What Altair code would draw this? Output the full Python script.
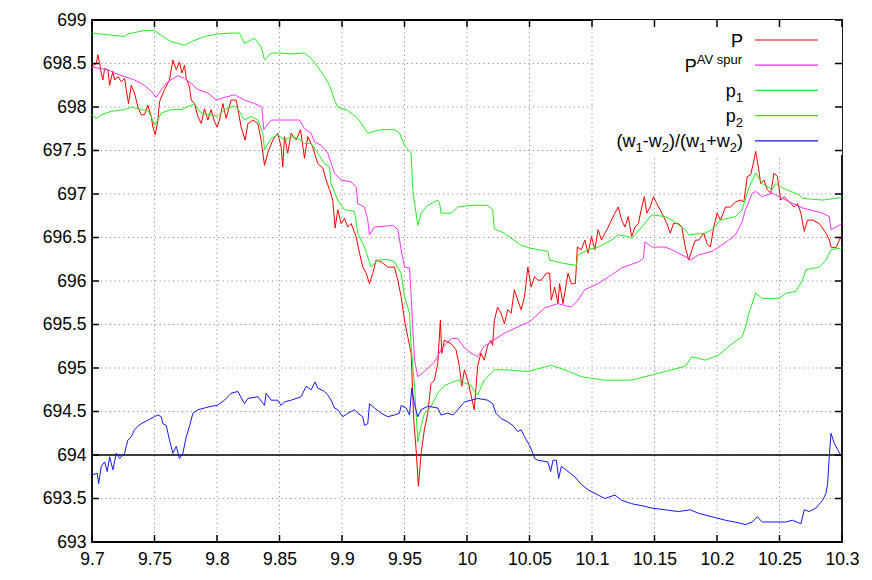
import altair as alt
import pandas as pd

# ---------------- data ----------------
P_x = [9.700, 9.7034, 9.7047, 9.7061, 9.7074, 9.7087, 9.7101, 9.7127, 9.7141, 9.7167, 9.7181, 9.7207, 9.7234, 9.7261,
       9.7274, 9.7292, 9.7314, 9.7340, 9.7367, 9.7394, 9.7420, 9.7447, 9.7474, 9.7487, 9.7506, 9.7527, 9.7540, 9.7580,
       9.7620, 9.7647, 9.7674, 9.7700, 9.7719, 9.7740, 9.7754, 9.7780, 9.7794, 9.7820, 9.7847, 9.7874, 9.7900, 9.7927,
       9.7953, 9.7980, 9.8001, 9.8020, 9.8047, 9.8073, 9.8113, 9.8153, 9.8167, 9.8193, 9.8225, 9.8247, 9.8287, 9.8327,
       9.8353, 9.8380, 9.8406, 9.8446, 9.8486, 9.8513, 9.8526, 9.8540, 9.8566, 9.8593, 9.8633, 9.8668, 9.8700, 9.8726,
       9.8766, 9.8806, 9.8846, 9.8873, 9.8900, 9.8926, 9.8945, 9.8966, 9.8993, 9.9020, 9.9046, 9.9073, 9.9113, 9.9140,
       9.9166, 9.9193, 9.9220, 9.9246, 9.9273, 9.9313, 9.9366, 9.9420, 9.9446, 9.9473, 9.9500, 9.9526, 9.9553, 9.9574,
       9.9593, 9.9611, 9.9633, 9.9659, 9.9686, 9.9712, 9.9739, 9.9766, 9.9787, 9.9798, 9.9819, 9.9872, 9.9912, 9.9939,
       9.9958, 9.9979, 10.0006, 10.0058, 10.0085, 10.0111, 10.0138, 10.0165, 10.0192, 10.0205, 10.0219, 10.0245, 10.0272,
       10.0299, 10.0326, 10.0353, 10.0379, 10.0406, 10.0433, 10.0460, 10.0487, 10.0513, 10.0540, 10.0567, 10.0594,
       10.0634, 10.0661, 10.0674, 10.0701, 10.0728, 10.0741, 10.0768, 10.0808, 10.0835, 10.0867, 10.0883, 10.0915,
       10.0942, 10.0969, 10.0996, 10.1023, 10.1049, 10.1076, 10.1103, 10.1130, 10.1156, 10.1183, 10.1210, 10.1237,
       10.1264, 10.1290, 10.1317, 10.1344, 10.1371, 10.1398, 10.1419, 10.1438, 10.1465, 10.1492, 10.1518, 10.1559,
       10.1599, 10.1626, 10.1652, 10.1693, 10.1719, 10.1746, 10.1773, 10.1800, 10.1827, 10.1853, 10.1894, 10.1920,
       10.1947, 10.1974, 10.2001, 10.2028, 10.2068, 10.2108, 10.2148, 10.2188, 10.2215, 10.2242, 10.2269, 10.2296,
       10.2309, 10.2331, 10.2349, 10.2376, 10.2403, 10.2430, 10.2456, 10.2483, 10.2510, 10.2537, 10.2564, 10.2590,
       10.2617, 10.2644, 10.2671, 10.2698, 10.2724, 10.2765, 10.2818, 10.2872, 10.2898, 10.2912, 10.2952, 10.2979, 10.3]
P_y = [698.46, 698.50, 698.60, 698.50, 698.39, 698.31, 698.44, 698.43, 698.25, 698.41, 698.31, 698.35, 698.29, 698.33,
       698.20, 698.04, 698.25, 698.16, 698.00, 697.91, 697.91, 698.02, 697.89, 697.77, 697.68, 697.85, 698.06, 698.20,
       698.31, 698.54, 698.43, 698.52, 698.39, 698.48, 698.33, 698.23, 698.08, 698.04, 697.89, 697.81, 697.98, 697.85,
       697.97, 697.83, 697.77, 697.85, 698.04, 697.87, 698.08, 698.08, 697.98, 697.77, 697.62, 697.81, 697.85, 697.81,
       697.62, 697.33, 697.47, 697.62, 697.70, 697.54, 697.31, 697.66, 697.47, 697.70, 697.62, 697.74, 697.41, 697.66,
       697.54, 697.35, 697.30, 697.16, 697.05, 696.93, 696.61, 696.82, 696.66, 696.72, 696.62, 696.66, 696.51, 696.32,
       696.16, 696.09, 695.97, 696.09, 696.24, 696.22, 696.16, 696.16, 696.01, 695.82, 695.55, 695.36, 695.17, 694.40,
       694.06, 693.64, 694.02, 694.29, 694.48, 694.82, 694.86, 695.05, 695.55, 695.17, 695.32, 695.28, 695.21, 695.02,
       694.79, 694.98, 694.86, 694.52, 695.02, 695.17, 695.09, 695.26, 695.32, 695.26, 695.55, 695.70, 695.63,
       695.51, 695.67, 695.63, 695.90, 695.78, 695.67, 695.82, 696.16, 695.93, 696.05, 696.01, 696.01,
       696.09, 696.09, 695.78, 695.93, 695.74, 695.97, 695.74, 696.09, 695.97, 695.97, 696.39, 696.36,
       696.47, 696.32, 696.51, 696.36, 696.59, 696.47, 696.55, 696.62, 696.70, 696.78, 696.85, 696.70,
       696.62, 696.74, 696.51, 696.62, 696.66, 696.85, 696.97, 696.78, 696.85, 696.97, 696.89, 696.78,
       696.66, 696.55, 696.66, 696.66, 696.62, 696.39, 696.24, 696.36, 696.47, 696.47, 696.55, 696.43,
       696.39, 696.62, 696.78, 696.70, 696.85, 696.85, 696.91, 696.93, 696.91, 697.20, 697.22, 697.39,
       697.49, 697.31, 697.12, 697.16, 697.05, 697.01, 697.24, 697.20, 696.93, 696.97, 696.93, 696.89,
       696.85, 696.89, 696.78, 696.57, 696.70, 696.70, 696.66, 696.55, 696.47, 696.39, 696.38, 696.47, 696.53]

PAV_x = [9.700, 9.7074, 9.7127, 9.7181, 9.7261, 9.7341, 9.7420, 9.7474, 9.7514, 9.7554, 9.7607, 9.7687, 9.7740,
         9.7794, 9.7847, 9.7927, 9.7993, 9.8060, 9.8140, 9.8220, 9.8300, 9.8359, 9.8374, 9.8433, 9.8513, 9.8593,
         9.8660, 9.8700, 9.8753, 9.8780, 9.8833, 9.8886, 9.8940, 9.8993, 9.9073, 9.9113, 9.9126, 9.9180, 9.9206,
         9.9220, 9.9260, 9.9340, 9.9407, 9.9447, 9.9473, 9.9500, 9.9540, 9.9553, 9.9580, 9.9606, 9.9660, 9.9740,
         9.9793, 9.9873, 9.9926, 9.9980, 10.0033, 10.0085, 10.0138, 10.0192, 10.0299, 10.0433, 10.0500, 10.0620,
         10.0728, 10.0835, 10.0888, 10.0942, 10.1049, 10.1156, 10.1237, 10.1371, 10.1411, 10.1424, 10.1478,
         10.1585, 10.1639, 10.1746, 10.1786, 10.1853, 10.1960, 10.2014, 10.2094, 10.2148, 10.2201, 10.2228,
         10.2282, 10.2309, 10.2362, 10.2443, 10.2496, 10.2577, 10.2684, 10.2845, 10.2898, 10.2912, 10.2952, 10.3]
PAV_y = [698.46, 698.44, 698.43, 698.39, 698.35, 698.31, 698.25, 698.18, 698.11, 698.20, 698.29, 698.36, 698.33,
         698.27, 698.20, 698.16, 698.08, 698.11, 698.14, 698.08, 698.04, 698.00, 697.74, 697.85, 697.85, 697.85,
         697.85, 697.75, 697.70, 697.60, 697.56, 697.47, 697.24, 697.16, 697.14, 697.08, 696.89, 696.85, 696.70,
         696.53, 696.62, 696.63, 696.64, 696.59, 696.36, 696.16, 696.15, 695.82, 695.09, 694.90, 694.96, 695.07,
         695.21, 695.34, 695.34, 695.23, 695.17, 695.13, 695.25, 695.30, 695.40, 695.49, 695.53, 695.69,
         695.74, 695.70, 695.78, 695.90, 695.97, 696.07, 696.15, 696.22, 696.26, 696.45, 696.39,
         696.39, 696.36, 696.28, 696.24, 696.30, 696.34, 696.39, 696.47, 696.53, 696.68, 696.82,
         697.01, 697.03, 696.97, 697.01, 696.97, 696.91, 696.84, 696.78, 696.74, 696.59, 696.62, 696.66]

P1_x = [9.700, 9.7261, 9.7287, 9.7420, 9.7500, 9.7527, 9.7634, 9.7740, 9.7794, 9.7900, 9.8007, 9.8113, 9.8180,
        9.8220, 9.8300, 9.8353, 9.8380, 9.8433, 9.8513, 9.8593, 9.8700, 9.8753, 9.8806, 9.8860, 9.8900, 9.8940,
        9.8966, 9.9046, 9.9126, 9.9206, 9.9313, 9.9420, 9.9460, 9.9500, 9.9553, 9.9566, 9.9606, 9.9633, 9.9686,
        9.9766, 9.9780, 9.9793, 9.9873, 9.9926, 10.0033, 10.0165, 10.0205, 10.0219, 10.0299, 10.0433, 10.0500,
        10.0647, 10.0661, 10.0781, 10.0875, 10.0888, 10.0969, 10.1049, 10.1156, 10.1210, 10.1290, 10.1317,
        10.1398, 10.1478, 10.1585, 10.1639, 10.1746, 10.1773, 10.1907, 10.1960, 10.2027, 10.2148, 10.2201,
        10.2255, 10.2309, 10.2362, 10.2443, 10.2469, 10.2523, 10.2657, 10.2684, 10.2845, 10.3]
P1_y = [698.85, 698.81, 698.84, 698.88, 698.88, 698.85, 698.75, 698.71, 698.75, 698.81, 698.84, 698.85, 698.85,
        698.73, 698.79, 698.69, 698.54, 698.62, 698.62, 698.61, 698.62, 698.56, 698.46, 698.35, 698.25, 698.08,
        698.00, 697.96, 697.87, 697.70, 697.74, 697.74, 697.70, 697.56, 697.47, 697.05, 696.64, 696.78, 696.87,
        696.93, 696.90, 696.78, 696.78, 696.85, 696.87, 696.87, 696.82, 696.60, 696.55, 696.41, 696.38,
        696.34, 696.24, 696.20, 696.18, 696.30, 696.36, 696.39, 696.47, 696.53, 696.51, 696.49,
        696.62, 696.76, 696.74, 696.70, 696.59, 696.53, 696.55, 696.59, 696.70, 696.74, 696.82,
        697.07, 697.24, 697.12, 697.05, 697.12, 697.07, 696.99, 696.95, 696.93, 696.96]

P2_x = [9.700, 9.7034, 9.7074, 9.7154, 9.7261, 9.7314, 9.7394, 9.7447, 9.7474, 9.7500, 9.7527, 9.7554, 9.7634,
        9.7714, 9.7794, 9.7820, 9.7847, 9.7874, 9.7953, 9.8007, 9.8060, 9.8140, 9.8167, 9.8220, 9.8273, 9.8327,
        9.8367, 9.8380, 9.8433, 9.8487, 9.8540, 9.8593, 9.8647, 9.8700, 9.8753, 9.8806, 9.8860, 9.8900, 9.8913,
        9.8966, 9.9020, 9.9100, 9.9126, 9.9180, 9.9233, 9.9286, 9.9366, 9.9420, 9.9473, 9.9500, 9.9540, 9.9553,
        9.9580, 9.9606, 9.9633, 9.9660, 9.9713, 9.9766, 9.9820, 9.9926, 10.0033, 10.0058, 10.0085, 10.0138,
        10.0219, 10.0299, 10.0487, 10.0674, 10.0781, 10.0915, 10.1103, 10.1317, 10.1424, 10.1532, 10.1746,
        10.1800, 10.1907, 10.2014, 10.2121, 10.2201, 10.2228, 10.2255, 10.2309, 10.2362, 10.2496, 10.2550,
        10.2630, 10.2684, 10.2711, 10.2818, 10.2872, 10.2912, 10.3]
P2_y = [697.91, 697.87, 697.91, 697.95, 697.97, 698.00, 697.97, 697.96, 697.89, 697.79, 697.85, 697.93, 697.97,
        697.97, 698.02, 698.04, 697.98, 697.93, 697.91, 697.89, 697.97, 698.01, 697.98, 697.85, 697.89, 697.85,
        697.70, 697.51, 697.64, 697.68, 697.62, 697.66, 697.64, 697.58, 697.58, 697.47, 697.35, 697.31, 697.12,
        696.93, 696.82, 696.80, 696.55, 696.39, 696.16, 696.24, 696.25, 696.22, 696.09, 695.82, 695.63, 695.25,
        694.79, 694.15, 694.33, 694.48, 694.56, 694.71, 694.80, 694.86, 694.80, 694.73, 694.69, 694.86,
        694.98, 694.98, 694.96, 695.03, 694.98, 694.90, 694.86, 694.86, 694.90, 694.94, 695.02,
        695.13, 695.09, 695.15, 695.28, 695.36, 695.47, 695.63, 695.86, 695.80, 695.80, 695.86,
        695.88, 696.01, 696.13, 696.16, 696.24, 696.36, 696.38]

W_x = [9.700, 9.7042, 9.7053, 9.7074, 9.7101, 9.7122, 9.7141, 9.7167, 9.7194, 9.7221, 9.7261, 9.7274, 9.7287,
       9.7314, 9.7340, 9.7367, 9.7394, 9.7447, 9.7500, 9.7527, 9.7554, 9.7567, 9.7594, 9.7620, 9.7647, 9.7674,
       9.7700, 9.7727, 9.7754, 9.7780, 9.7807, 9.7847, 9.7900, 9.7953, 9.8001, 9.8060, 9.8113, 9.8167, 9.8220,
       9.8247, 9.8327, 9.8380, 9.8393, 9.8433, 9.8486, 9.8513, 9.8540, 9.8593, 9.8673, 9.8713, 9.8753, 9.8785,
       9.8806, 9.8860, 9.8886, 9.8913, 9.8940, 9.8966, 9.9006, 9.9046, 9.9100, 9.9126, 9.9166, 9.9180, 9.9206,
       9.9220, 9.9260, 9.9313, 9.9366, 9.9420, 9.9460, 9.9473, 9.9513, 9.9540, 9.9558, 9.9579, 9.9606, 9.9633,
       9.9686, 9.9766, 9.9792, 9.9846, 9.9886, 9.9926, 9.9979, 10.0033, 10.0085, 10.0165, 10.0205, 10.0232,
       10.0272, 10.0326, 10.0366, 10.0406, 10.0433, 10.0460, 10.0500, 10.0527, 10.0540, 10.0567, 10.0647,
       10.0669, 10.0688, 10.0715, 10.0733, 10.0755, 10.0808, 10.0862, 10.0915, 10.0969, 10.1049, 10.1103,
       10.1183, 10.1237, 10.1317, 10.1424, 10.1478, 10.1585, 10.1693, 10.1786, 10.1853, 10.1960, 10.2068,
       10.2175, 10.2228, 10.2282, 10.2322, 10.2362, 10.2443, 10.2550, 10.2604, 10.2671, 10.2698, 10.2738,
       10.2791, 10.2845, 10.2872, 10.2885, 10.2898, 10.2912, 10.2939, 10.2966, 10.2992, 10.3]
W_y = [693.77, 693.79, 693.67, 693.87, 693.92, 693.81, 693.98, 693.83, 694.02, 693.96, 694.02, 694.10, 694.17,
       694.21, 694.29, 694.33, 694.36, 694.40, 694.44, 694.46, 694.44, 694.36, 694.34, 694.17, 694.02, 694.10,
       693.96, 694.02, 694.21, 694.33, 694.48, 694.52, 694.54, 694.56, 694.57, 694.63, 694.71, 694.73, 694.59,
       694.65, 694.67, 694.57, 694.71, 694.63, 694.63, 694.57, 694.61, 694.63, 694.67, 694.79, 694.75, 694.84,
       694.77, 694.73, 694.69, 694.63, 694.54, 694.52, 694.44, 694.48, 694.52, 694.48, 694.44, 694.34, 694.36,
       694.59, 694.54, 694.48, 694.44, 694.46, 694.48, 694.57, 694.54, 694.46, 694.77, 694.59, 694.44, 694.52,
       694.56, 694.54, 694.46, 694.48, 694.46, 694.52, 694.61, 694.63, 694.65, 694.63, 694.59, 694.48,
       694.42, 694.38, 694.34, 694.27, 694.29, 694.21, 694.11, 694.02, 693.96, 693.94, 693.92,
       693.81, 693.94, 693.94, 693.73, 693.87, 693.81, 693.75, 693.66, 693.60, 693.54, 693.50,
       693.54, 693.48, 693.44, 693.41, 693.39, 693.37, 693.35, 693.37, 693.33, 693.29, 693.25,
       693.22, 693.20, 693.23, 693.29, 693.23, 693.23, 693.23, 693.25, 693.21, 693.37, 693.35,
       693.39, 693.48, 693.56, 693.67, 693.98, 694.25, 694.13, 694.06, 693.99, 693.97]

BASELINE = 694
X_TICKS = [9.7, 9.75, 9.8, 9.85, 9.9, 9.95, 10.0, 10.05, 10.1, 10.15, 10.2, 10.25, 10.3]
Y_TICKS = [693, 693.5, 694, 694.5, 695, 695.5, 696, 696.5, 697, 697.5, 698, 698.5, 699]

SERIES = ["P", "PAV", "p1", "p2", "w"]
COLORS = {"P": "#ff0000", "PAV": "#ff30ff", "p1": "#22ee22", "p2": "#22ee22", "w": "#1515ff"}

# ---------------- chart ----------------
W, H = 750, 522
FONT = "Liberation Sans"
xs = alt.Scale(domain=[9.7, 10.3], nice=False, zero=False)
ys = alt.Scale(domain=[693, 699], nice=False, zero=False)

AX = alt.Axis(values=X_TICKS, format="~g", grid=False, ticks=False, domain=False, labelFont=FONT,
              labelFontSize=17.5, labelColor="black", labelPadding=8, labelFlush=False,
              labelOverlap=False, title=None)
AY = alt.Axis(values=Y_TICKS, format="~g", grid=False, ticks=False, domain=False, labelFont=FONT,
              labelFontSize=17.5, labelColor="black", labelPadding=6, labelFlush=False,
              labelOverlap=False, title=None)


def X(field="x"):
    return alt.X(f"{field}:Q", scale=xs, axis=AX, title=None)


def Y(field="y"):
    return alt.Y(f"{field}:Q", scale=ys, axis=AY, title=None)


series_data = {
    "P": (P_x, P_y), "PAV": (PAV_x, PAV_y), "p1": (P1_x, P1_y), "p2": (P2_x, P2_y), "w": (W_x, W_y),
}

layers = []

# dotted grid drawn as rules
grid_rows = []
for v in X_TICKS[1:-1]:
    grid_rows.append({"x": v, "x2": v, "y": 693, "y2": 699})
for v in Y_TICKS[1:-1]:
    grid_rows.append({"x": 9.7, "x2": 10.3, "y": v, "y2": v})
layers.append(
    alt.Chart(pd.DataFrame(grid_rows)).mark_rule(color="#909090", strokeWidth=1, strokeDash=[1.2, 3.3]).encode(
        x=X(), x2="x2:Q", y=Y(), y2="y2:Q"
    )
)

# opaque key area
one = pd.DataFrame({"x": [9.7], "y": [693]})
layers.append(
    alt.Chart(one).mark_rect(color="white").encode(
        x=alt.value(501), x2=alt.value(W), y=alt.value(0), y2=alt.value(135)
    )
)

# horizontal line at 694
layers.append(
    alt.Chart(pd.DataFrame({"y": [BASELINE]})).mark_rule(color="black", strokeWidth=1.5).encode(y=Y())
)

for name in SERIES:
    sx, sy = series_data[name]
    df = pd.DataFrame({"x": sx, "y": sy, "order": range(len(sx))})
    layers.append(
        alt.Chart(df).mark_line(color=COLORS[name], strokeWidth=1, clip=True).encode(
            x=X(), y=Y(), order="order:Q",
        )
    )

# inward ticks on all four sides
tx, ty = 0.0056, 0.08
tick_rows = []
for v in X_TICKS:
    tick_rows.append({"x": v, "x2": v, "y": 693, "y2": 693 + ty})
    tick_rows.append({"x": v, "x2": v, "y": 699, "y2": 699 - ty})
for v in Y_TICKS:
    tick_rows.append({"x": 9.7, "x2": 9.7 + tx, "y": v, "y2": v})
    tick_rows.append({"x": 10.3, "x2": 10.3 - tx, "y": v, "y2": v})
layers.append(
    alt.Chart(pd.DataFrame(tick_rows)).mark_rule(color="black", strokeWidth=1.5).encode(
        x=X(), x2="x2:Q", y=Y(), y2="y2:Q",
    )
)

# ---------------- key (legend) with sub/superscripts ----------------
ARIAL = {"(": 333, "w": 722, "-": 333, ")": 333, "/": 278, "+": 584, "1": 556, "2": 556,
         "P": 667, "A": 667, "V": 667, " ": 278, "s": 500, "p": 556, "u": 556, "r": 333}
MAIN, SMALL = 18, 13


def twidth(s, size):
    return sum(ARIAL[c] for c in s) * size / 1000.0


KEY_ROWS = [
    ("P", [("P", "n")]),
    ("PAV", [("P", "n"), ("AV spur", "sup")]),
    ("p1", [("p", "n"), ("1", "sub")]),
    ("p2", [("p", "n"), ("2", "sub")]),
    ("w", [("(w", "n"), ("1", "sub"), ("-w", "n"), ("2", "sub"), (")/(w", "n"), ("1", "sub"),
           ("+w", "n"), ("2", "sub"), (")", "n")]),
]
text_right = 651
sample_x1, sample_x2 = 663, 726
for i, (name, segs) in enumerate(KEY_ROWS):
    yc = 20 + 25.2 * i
    layers.append(
        alt.Chart(one).mark_rule(color=COLORS[name], strokeWidth=1.2).encode(
            x=alt.value(sample_x1), x2=alt.value(sample_x2), y=alt.value(yc), y2=alt.value(yc)
        )
    )
    total = sum(twidth(t, MAIN if k == "n" else SMALL) for t, k in segs)
    cx = text_right - total
    base = yc + 6.5
    for t, k in segs:
        size = MAIN if k == "n" else SMALL
        dy = 0 if k == "n" else (5 if k == "sub" else -8)
        layers.append(
            alt.Chart(one).mark_text(align="left", baseline="alphabetic", font=FONT, fontSize=size,
                                     color="black").encode(
                x=alt.value(cx), y=alt.value(base + dy), text=alt.value(t)
            )
        )
        cx += twidth(t, size)

chart = alt.layer(*layers).properties(
    width=W, height=H,
    autosize=alt.AutoSizeParams(type="none"),
    padding={"left": 84, "top": 12, "right": 18, "bottom": 26},
).configure_view(stroke="black", strokeWidth=1.8)

chart.save("out.html", embed_options={"renderer": "svg", "actions": False})
